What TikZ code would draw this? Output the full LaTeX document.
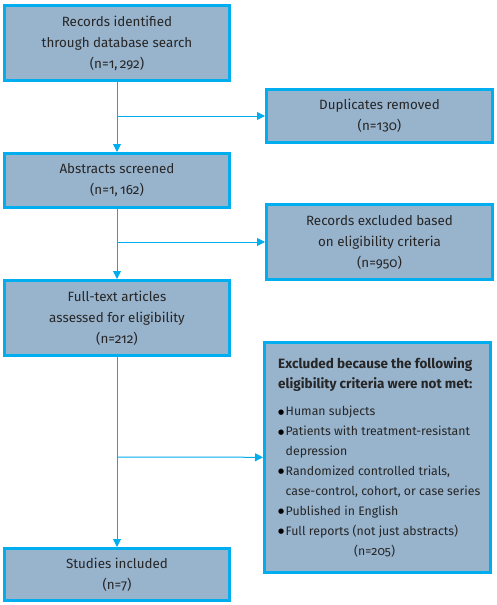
\documentclass[tikz,border=0pt]{standalone}
\usepackage{fontspec}
\setmainfont{Fira Sans}[Numbers=OldStyle]
\newfontfamily\dejavu{DejaVu Sans}
\usetikzlibrary{arrows.meta}
\definecolor{boxfill}{HTML}{98B3CC}
\definecolor{boxline}{HTML}{00AEEF}
\definecolor{txt}{HTML}{262626}
\newcommand\blt{\makebox[7.5pt][l]{\raisebox{1.8pt}{\dejavu\fontsize{7}{7}\selectfont\color{black}●}}}
\begin{document}
\begin{tikzpicture}[x=1pt,y=-1pt,
  box/.style={draw=boxline, line width=3pt, fill=boxfill, text=txt, align=center,
    inner sep=0pt, font=\fontsize{13.4}{21}\selectfont},
  conn/.style={draw=boxline, line width=1pt, -{Triangle[width=8pt,length=8pt]}}]
\useasboundingbox (0,0) rectangle (497,605);
\node[box, minimum width=225pt, minimum height=75pt] (box1) at (117,43)
  {Records identified\\through database search\\(n=1,\,292)};
\node[box, minimum width=226pt, minimum height=53pt] (box2) at (379.5,116)
  {Duplicates removed\\(n=130)};
\node[box, minimum width=225pt, minimum height=54pt] (box3) at (117,180.5)
  {Abstracts screened\\(n=1,\,162)};
\node[box, minimum width=226pt, minimum height=75pt] (box4) at (379.5,242)
  {Records excluded based\\on eligibility criteria\\(n=950)};
\node[box, minimum width=225pt, minimum height=75pt] (box5) at (117,318)
  {Full-text articles\\assessed for eligibility\\(n=212)};
\node[box, minimum width=226pt, minimum height=230pt] (box6) at (377.5,457.5) {};
\node[anchor=north west, inner sep=0pt, text=txt, align=left,
  font=\fontsize{12.3}{19.9}\selectfont] (list) at (278,357)
  {{\fontsize{13.5}{22}\selectfont\bfseries Excluded because the following}\\
   {\fontsize{13.5}{22}\selectfont\bfseries eligibility criteria were not met:}\\[8pt]
   \blt Human subjects\\
   \blt Patients with treatment-resistant\\
   \hspace*{7.5pt}depression\\
   \blt Randomized controlled trials,\\
   \hspace*{7.5pt}case-control, cohort, or case series\\
   \blt Published in English\\
   \blt Full reports (not just abstracts)\\
   \hspace*{76pt}(n=205)};
\node[box, minimum width=225pt, minimum height=52pt] (box7) at (117,574.5)
  {Studies included\\(n=7)};
\coordinate (j1) at (117,116);
\coordinate (j2) at (117,242);
\coordinate (j3) at (117,457);
\draw[conn] (box1) -- (box3);
\draw[conn] (box3) -- (box5);
\draw[conn] (box5) -- (box7);
\draw[conn] (j1) -- (box2);
\draw[conn] (j2) -- (box4);
\draw[conn] (j3) -- (box6);
\end{tikzpicture}
\end{document}
